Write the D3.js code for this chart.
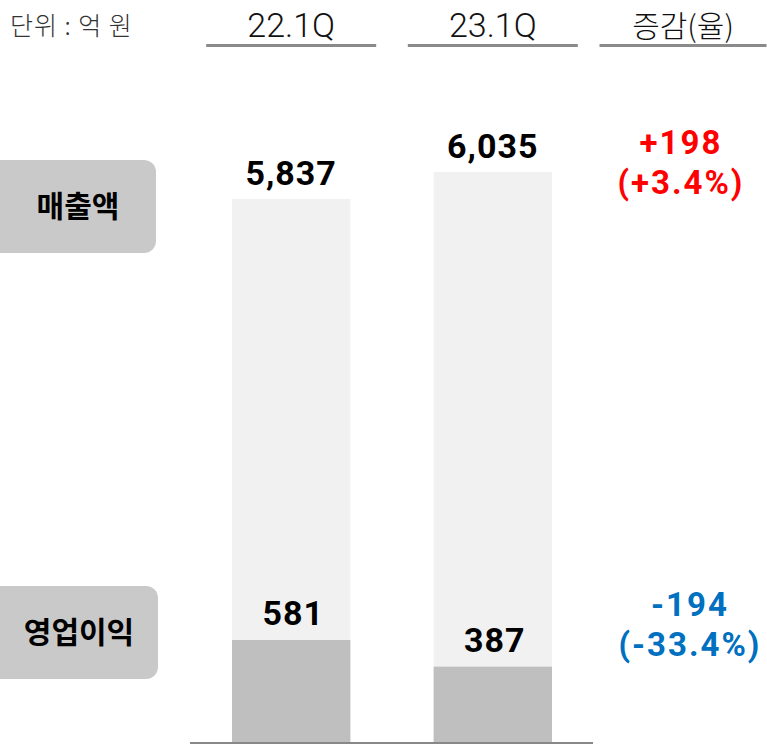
<!DOCTYPE html>
<html>
<head>
<meta charset="utf-8">
<script src="https://cdn.jsdelivr.net/npm/d3@7"></script>
<style>
  body { margin: 0; background: #fff; }
  text { font-family: "Noto Sans CJK KR", "Noto Sans", sans-serif; }
  .num { font-family: Roboto, "Noto Sans CJK KR", sans-serif; }
</style>
</head>
<body>
<div id="wrapper"></div>
<script>
const periods = ["22.1Q", "23.1Q"];
const sales = [5837, 6035];
const profit = [581, 387];
const rowLabels = ["매출액", "영업이익"];
const salesChange = ["+198", "(+3.4%)"];
const profitChange = ["-194", "(-33.4%)"];
const unitLabel = "단위 : 억 원";
const changeHeader = "증감(율)";

function drawChart() {
  const width = 767;
  const height = 746;
  const baseline = 743;

  const svg = d3.select("#wrapper").append("svg")
    .attr("width", width).attr("height", height);

  const xScale = d3.scaleBand()
    .domain(periods)
    .range([232, 552])
    .paddingInner(0.413);

  // bars are drawn on truncated scales, like the original
  const salesY = d3.scaleLinear().domain([1850, 6035]).range([baseline, 172]);
  const profitY = d3.scaleLinear().domain([-168, 581]).range([baseline, 640]);

  const fmt = d3.format(",");

  // header
  svg.append("text")
    .attr("x", 10).attr("y", 35)
    .attr("fill", "#333")
    .style("font-size", "25px")
    .style("font-weight", 300)
    .style("letter-spacing", "1px")
    .text(unitLabel);

  const headers = periods.map((p) => ({ label: p, cx: xScale(p) + xScale.bandwidth() / 2, w: 170, cls: "hdr num" }));
  headers.push({ label: changeHeader, cx: 683, w: 167, cls: "hdr" });

  svg.selectAll(".hdr").data(headers).join("text")
    .attr("class", (d) => d.cls)
    .attr("x", (d) => d.cx).attr("y", 37)
    .attr("text-anchor", "middle")
    .attr("fill", "#111")
    .style("font-size", (d) => (d.cls === "hdr" ? "30px" : "34px"))
    .style("font-weight", 300)
    .text((d) => d.label);

  svg.selectAll(".hdr-line").data(headers).join("rect")
    .attr("class", "hdr-line")
    .attr("x", (d) => d.cx - d.w / 2).attr("y", 44)
    .attr("width", (d) => d.w).attr("height", 3)
    .attr("fill", "#8a8a8a");

  // row label boxes
  const boxes = [
    { label: rowLabels[0], y: 160, w: 156 },
    { label: rowLabels[1], y: 586, w: 158 },
  ];
  svg.selectAll(".box").data(boxes).join("rect")
    .attr("class", "box")
    .attr("x", -12).attr("y", (d) => d.y)
    .attr("width", (d) => d.w + 12).attr("height", 93)
    .attr("rx", 12)
    .attr("fill", "#c9c9c9");
  svg.selectAll(".box-label").data(boxes).join("text")
    .attr("class", "box-label")
    .attr("x", (d) => d.w / 2).attr("y", (d) => d.y + 57)
    .attr("text-anchor", "middle")
    .attr("fill", "#000")
    .style("font-size", "30px")
    .style("font-weight", 700)
    .text((d) => d.label);

  const data = periods.map((p, i) => ({ period: p, sales: sales[i], profit: profit[i] }));

  // sales bars
  svg.selectAll(".sales-bar").data(data).join("rect")
    .attr("class", "sales-bar")
    .attr("x", (d) => xScale(d.period))
    .attr("y", (d) => salesY(d.sales))
    .attr("width", xScale.bandwidth())
    .attr("height", (d) => baseline - salesY(d.sales))
    .attr("fill", "#f1f1f1");

  // operating profit bars
  svg.selectAll(".profit-bar").data(data).join("rect")
    .attr("class", "profit-bar")
    .attr("x", (d) => xScale(d.period))
    .attr("y", (d) => profitY(d.profit))
    .attr("width", xScale.bandwidth())
    .attr("height", (d) => baseline - profitY(d.profit))
    .attr("fill", "#bfbfbf");

  // value labels
  svg.selectAll(".sales-label").data(data).join("text")
    .attr("class", "sales-label num")
    .attr("x", (d) => xScale(d.period) + xScale.bandwidth() / 2)
    .attr("y", (d) => salesY(d.sales) - 14)
    .attr("text-anchor", "middle")
    .style("font-size", "34px").style("font-weight", 700)
    .style("letter-spacing", "1px")
    .text((d) => fmt(d.sales));

  svg.selectAll(".profit-label").data(data).join("text")
    .attr("class", "profit-label num")
    .attr("x", (d) => xScale(d.period) + xScale.bandwidth() / 2 + 2)
    .attr("y", (d) => profitY(d.profit) - 15)
    .attr("text-anchor", "middle")
    .style("font-size", "34px").style("font-weight", 700)
    .style("letter-spacing", "1px")
    .text((d) => fmt(d.profit));

  // baseline
  svg.append("line")
    .attr("x1", 190).attr("x2", 593)
    .attr("y1", baseline).attr("y2", baseline)
    .attr("stroke", "#888").attr("stroke-width", 2);

  // change column
  const changes = [
    { lines: salesChange, color: "#ff0000", cx: 681, y: 154 },
    { lines: profitChange, color: "#0070c0", cx: 690, y: 616 },
  ];
  changes.forEach((c) => {
    svg.append("g").selectAll("text").data(c.lines).join("text")
      .attr("class", "num")
      .attr("x", c.cx)
      .attr("y", (d, i) => c.y + i * 40)
      .attr("text-anchor", "middle")
      .attr("fill", c.color)
      .style("font-size", "33px").style("font-weight", 700)
      .style("letter-spacing", "2px")
      .text((d) => d);
  });
}

drawChart();
</script>
</body>
</html>
